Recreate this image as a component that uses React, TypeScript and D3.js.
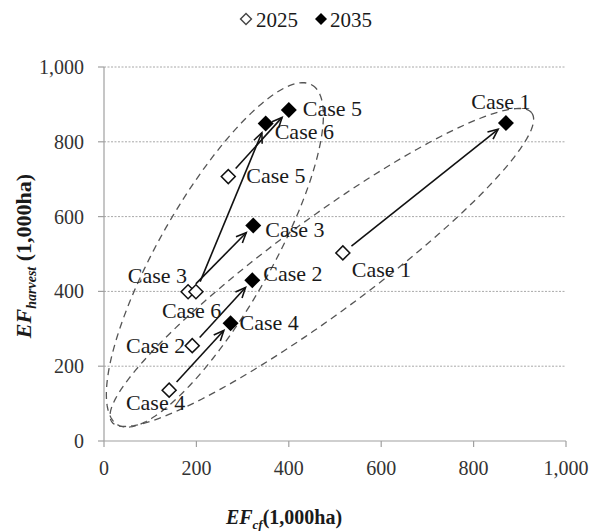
import React from "react";
import * as d3 from "d3";

const cases = ["Case 1", "Case 2", "Case 3", "Case 4", "Case 5", "Case 6"];
const x2025 = [517, 191, 182, 141, 269, 199];
const y2025 = [503, 255, 399, 136, 707, 399];
const x2035 = [870, 321, 323, 274, 400, 350];
const y2035 = [850, 430, 576, 315, 885, 849];
const xTicks = [0, 200, 400, 600, 800, 1000];
const yTicks = [0, 200, 400, 600, 800, 1000];
const seriesNames = ["2025", "2035"];

// grouping ellipses: ends of the long axis in data units
const ellipseEnds = [
  [[17, 51], [926, 877]],
  [[30, 43], [450, 952]],
];

// layout (pixel offsets) for labels
const lab2025 = [
  { dx: 9, dy: 24, a: "start" },
  { dx: -7, dy: 7, a: "end" },
  { dx: -1, dy: -9, a: "end" },
  { dx: 16, dy: 20, a: "end" },
  { dx: 18, dy: 6, a: "start" },
  { dx: -34, dy: 26, a: "start" },
];
const lab2035 = [
  { dx: -5, dy: -14, a: "middle" },
  { dx: 11, dy: 1, a: "start" },
  { dx: 12, dy: 11, a: "start" },
  { dx: 9, dy: 7, a: "start" },
  { dx: 14, dy: 6, a: "start" },
  { dx: 9, dy: 16, a: "start" },
];
const ellipseMinor = [47, 56];

const W = 593;
const H = 531;
const FONT = "Liberation Serif, Tinos, Times New Roman, DejaVu Serif, serif";

export default function App() {
  const x = d3.scaleLinear().domain([0, 1000]).range([104, 566]);
  const y = d3.scaleLinear().domain([0, 1000]).range([441, 67]);
  const fmt = d3.format(",");
  const sqHollow = d3.symbol(d3.symbolSquare, 98)();
  const sqFilled = d3.symbol(d3.symbolSquare, 128)();
  const ts = { fontFamily: FONT };

  const ellipsePath = (ends: number[][], b: number) => {
    const [p1, p2] = ends;
    const x1 = x(p1[0]), y1 = y(p1[1]), x2 = x(p2[0]), y2 = y(p2[1]);
    const cx = (x1 + x2) / 2, cy = (y1 + y2) / 2;
    const a = Math.hypot(x2 - x1, y2 - y1) / 2;
    const ang = Math.atan2(y2 - y1, x2 - x1);
    const pts: [number, number][] = d3.range(0, 361, 2).map((t) => {
      const r = (t * Math.PI) / 180;
      const ex = a * Math.cos(r), ey = b * Math.sin(r);
      return [cx + ex * Math.cos(ang) - ey * Math.sin(ang), cy + ex * Math.sin(ang) + ey * Math.cos(ang)];
    });
    return d3.line()(pts) + "Z";
  };

  const arrows = cases.map((c, i) => {
    const sx = x(x2025[i]), sy = y(y2025[i]);
    const ex = x(x2035[i]), ey = y(y2035[i]);
    const ang = Math.atan2(ey - sy, ex - sx);
    const g0 = 11, g1 = 10;
    const ax = sx + g0 * Math.cos(ang), ay = sy + g0 * Math.sin(ang);
    const bx = ex - g1 * Math.cos(ang), by = ey - g1 * Math.sin(ang);
    const hl = 11, ha = (24 * Math.PI) / 180;
    const h1 = [bx - hl * Math.cos(ang - ha), by - hl * Math.sin(ang - ha)];
    const h2 = [bx - hl * Math.cos(ang + ha), by - hl * Math.sin(ang + ha)];
    return { c, ax, ay, bx, by, h1, h2 };
  });

  return (
    <svg width={W} height={H} style={{ position: "absolute", left: 0, top: 0, background: "#fff", fontFamily: FONT }}>
      {/* gridlines */}
      {yTicks.filter((t) => t > 0).map((t) => (
        <line key={"g" + t} x1={x(0)} x2={x(1000)} y1={y(t)} y2={y(t)} stroke="#a8a8a8" strokeWidth={1} strokeDasharray="2,1.5" />
      ))}
      {/* axes */}
      <line x1={x(0)} x2={x(0)} y1={y(0)} y2={y(1000)} stroke="#a0a0a0" strokeWidth={1.2} />
      <line x1={x(0)} x2={x(1000)} y1={y(0)} y2={y(0)} stroke="#a0a0a0" strokeWidth={1.2} />
      {yTicks.map((t) => (
        <g key={"yt" + t}>
          <line x1={x(0) - 6} x2={x(0)} y1={y(t)} y2={y(t)} stroke="#a0a0a0" strokeWidth={1.2} />
          <text style={ts} x={84} y={y(t)} dy="0.35em" textAnchor="end" fontSize={20} fill="#333">{fmt(t)}</text>
        </g>
      ))}
      {xTicks.map((t) => (
        <g key={"xt" + t}>
          <line x1={x(t)} x2={x(t)} y1={y(0)} y2={y(0) + 6} stroke="#a0a0a0" strokeWidth={1.2} />
          <text style={ts} x={x(t)} y={475} textAnchor="middle" fontSize={20} fill="#333">{fmt(t)}</text>
        </g>
      ))}
      {/* ellipses */}
      {ellipseEnds.map((e, i) => (
        <path key={"el" + i} d={ellipsePath(e, ellipseMinor[i])} fill="none" stroke="#555" strokeWidth={1.3} strokeDasharray="7,5" />
      ))}
      {/* arrows */}
      {arrows.map((a) => (
        <g key={"ar" + a.c} stroke="#111" strokeWidth={1.6} fill="none">
          <line x1={a.ax} y1={a.ay} x2={a.bx} y2={a.by} />
          <polyline points={`${a.h1[0]},${a.h1[1]} ${a.bx},${a.by} ${a.h2[0]},${a.h2[1]}`} />
        </g>
      ))}
      {/* points */}
      {cases.map((c, i) => (
        <path key={"p25" + c} d={sqHollow} transform={`translate(${x(x2025[i])},${y(y2025[i])}) rotate(45)`} fill="#fff" stroke="#111" strokeWidth={1.5} />
      ))}
      {cases.map((c, i) => (
        <path key={"p35" + c} d={sqFilled} transform={`translate(${x(x2035[i])},${y(y2035[i])}) rotate(45)`} fill="#000" />
      ))}
      {/* labels */}
      {cases.map((c, i) => (
        <text style={ts} key={"l25" + c} x={x(x2025[i]) + lab2025[i].dx} y={y(y2025[i]) + lab2025[i].dy} textAnchor={lab2025[i].a as any} fontSize={22} fill="#1a1a1a">{c}</text>
      ))}
      {cases.map((c, i) => (
        <text style={ts} key={"l35" + c} x={x(x2035[i]) + lab2035[i].dx} y={y(y2035[i]) + lab2035[i].dy} textAnchor={lab2035[i].a as any} fontSize={22} fill="#1a1a1a">{c}</text>
      ))}
      {/* legend */}
      <path d={d3.symbol(d3.symbolSquare, 60)()} transform="translate(246,19) rotate(45)" fill="#fff" stroke="#444" strokeWidth={1.4} />
      <text style={ts} x={256} y={27} fontSize={21} fill="#1a1a1a">{seriesNames[0]}</text>
      <path d={d3.symbol(d3.symbolSquare, 72)()} transform="translate(321,19) rotate(45)" fill="#000" />
      <text style={ts} x={330} y={27} fontSize={21} fill="#1a1a1a">{seriesNames[1]}</text>
      {/* axis titles */}
      <text style={ts} x={284} y={524} textAnchor="middle" fontSize={20} fontWeight="bold" fill="#1a1a1a">
        <tspan fontStyle="italic">EF</tspan>
        <tspan fontStyle="italic" fontSize={13} dy={5}>cf</tspan>
        <tspan dy={-5}>(1,000ha)</tspan>
      </text>
      <text style={ts} transform="translate(31,256) rotate(-90)" textAnchor="middle" fontSize={22} fontWeight="bold" fill="#1a1a1a">
        <tspan fontStyle="italic">EF</tspan>
        <tspan fontStyle="italic" fontSize={14} dy={5}>harvest</tspan>
        <tspan dy={-5}> (1,000ha)</tspan>
      </text>
    </svg>
  );
}
